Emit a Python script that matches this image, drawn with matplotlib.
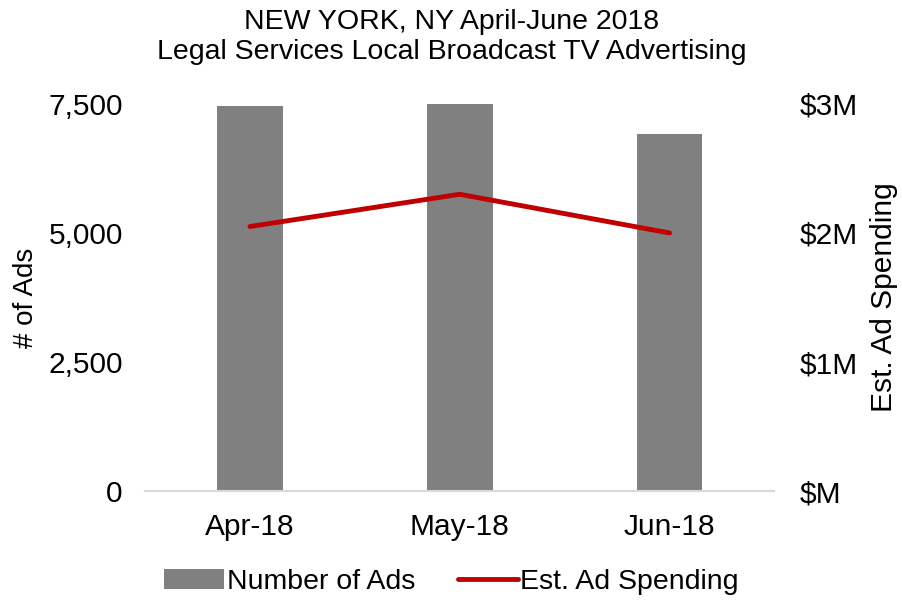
import matplotlib
matplotlib.use("Agg")
import matplotlib.pyplot as plt
from matplotlib.ticker import FuncFormatter

plt.rcParams['font.family'] = ['Liberation Sans', 'DejaVu Sans']

# data
months = ["Apr-18", "May-18", "Jun-18"]
num_ads = [7460, 7515, 6925]
spending_m = [2.05, 2.30, 2.00]  # millions of dollars

fig = plt.figure(figsize=(9.03, 6.01), dpi=100)
ax = fig.add_axes([0.1606, 0.183, 0.697, 0.644])
ax2 = ax.twinx()

x = range(len(months))
bars = ax.bar(x, num_ads, width=0.314, color="#808080", label="Number of Ads", zorder=2)
line, = ax2.plot(x, spending_m, color="#C00000", lw=3.5, solid_capstyle="round",
                 label="Est. Ad Spending", zorder=3)

ax.set_xlim(-0.5, 2.5)
ax.set_ylim(0, 7500)
ax.set_yticks([0, 2500, 5000, 7500])
ax.yaxis.set_major_formatter(FuncFormatter(lambda v, p: f"{int(v):,}"))
ax2.set_ylim(0, 3)
ax2.set_yticks([0, 1, 2, 3])
ax2.yaxis.set_major_formatter(FuncFormatter(lambda v, p: f"${int(v)}M" if v else "$M"))

ax.set_xticks(list(x))
ax.set_xticklabels(months)

for a in (ax, ax2):
    for s in ("top", "left", "right"):
        a.spines[s].set_visible(False)
    a.spines["bottom"].set_color("#D9D9D9")
    a.spines["bottom"].set_linewidth(1.5)
    a.tick_params(length=0, labelsize=21.5)
ax.tick_params(axis="y", pad=16)
ax2.tick_params(axis="y", pad=18)
ax.tick_params(axis="x", pad=16)

ax.set_ylabel("# of Ads", fontsize=20, labelpad=7)
ax2.set_ylabel("Est. Ad Spending", fontsize=21.5, labelpad=9)

fig.suptitle("NEW YORK, NY April-June 2018\nLegal Services Local Broadcast TV Advertising",
             fontsize=20.5, y=0.985, linespacing=1.2)

fig.legend([bars, line], ["Number of Ads", "Est. Ad Spending"], loc="lower center",
           ncol=2, frameon=False, fontsize=20.5, bbox_to_anchor=(0.5, -0.033),
           handlelength=2.1, handletextpad=0.1, columnspacing=1.5)

fig.savefig("out.png", dpi=100)
